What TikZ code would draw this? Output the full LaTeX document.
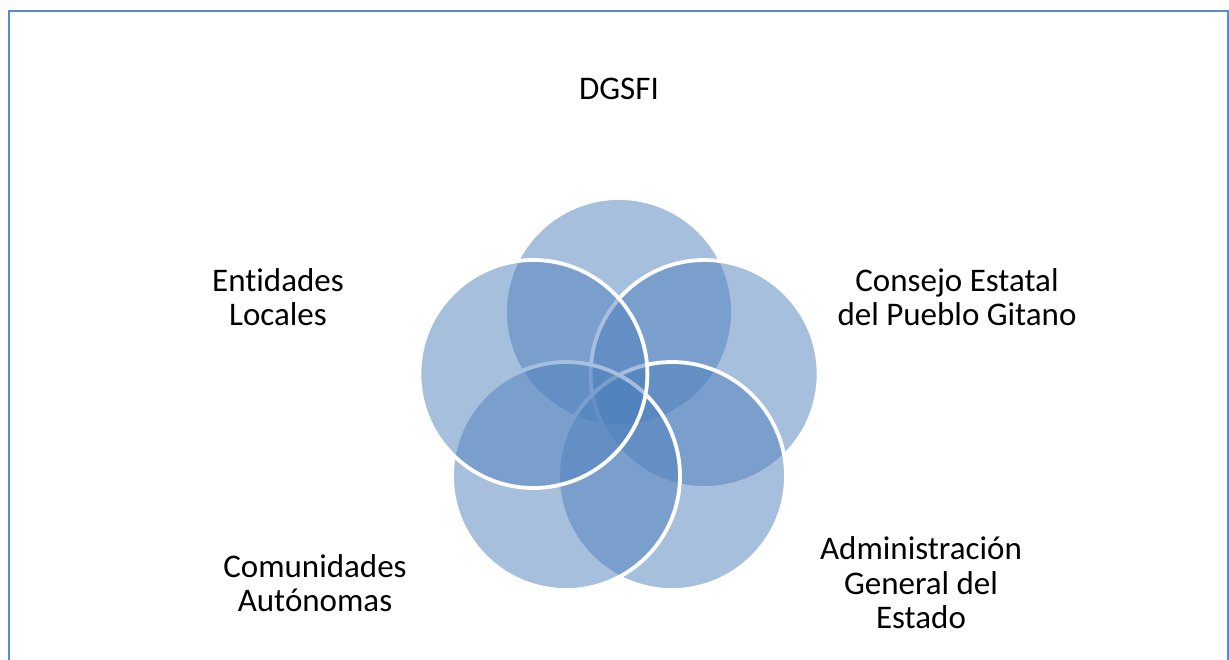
\documentclass[tikz,border=0pt]{standalone}
\usepackage{fontspec}
\setmainfont[Ligatures=NoCommon]{Carlito}
\definecolor{vblue}{HTML}{4F81BD}
\definecolor{frameblue}{HTML}{5A8AD2}
\begin{document}
\begin{tikzpicture}[x=1pt,y=-1pt,
  venn/.style={circle, minimum size=228pt, inner sep=0pt, fill=vblue, fill opacity=0.5, draw=white, draw opacity=1, line width=3.8pt},
  lbl/.style={align=center, font=\fontsize{33}{34.5}\selectfont, text=black}]
\useasboundingbox (0,0) rectangle (1229,659);
\fill[white] (0,0) rectangle (1229,659);
\draw[frameblue, line width=2pt] (8.5,700) -- (8.5,11) -- (1227.5,11) -- (1227.5,700);
% circles (drawing order matters)
\node[venn] (ctop) at (619,312) {};
\node[venn] (crt) at (704.6,374) {};
\node[venn] (cbr) at (672,476) {};
\node[venn] (cbl) at (566,476) {};
\node[venn] (ctl) at (533.4,374) {};
% labels
\node[lbl] (ldgsfi) at (619,89) {DGSFI};
\node[lbl] (lent) at (278,297) {Entidades\\Locales};
\node[lbl] (lcons) at (957,297) {Consejo Estatal\\del Pueblo Gitano};
\node[lbl] (lcom) at (315,583) {Comunidades\\Autónomas};
\node[lbl] (ladm) at (921,583) {Administración\\General del\\Estado};
\end{tikzpicture}
\end{document}
